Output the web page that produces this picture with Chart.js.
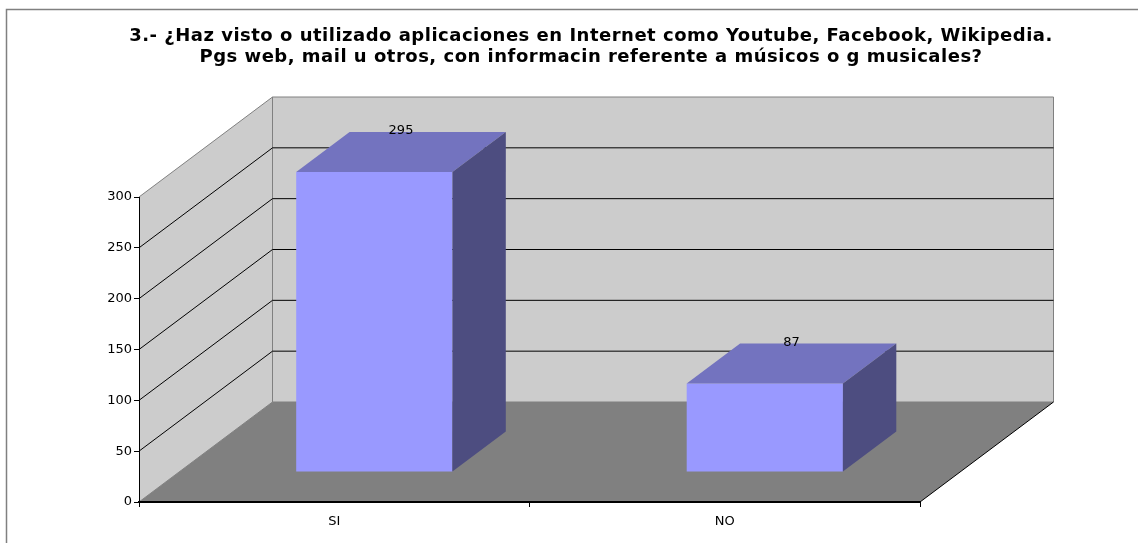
<!DOCTYPE html>
<html>
<head>
<meta charset="utf-8">
<script src="https://cdn.jsdelivr.net/npm/chart.js@4.4.1/dist/chart.umd.min.js"></script>
<style>
    html, body { margin: 0; padding: 0; background: #fff; overflow: hidden; }
    #wrap { width: 1138px; height: 543px; position: relative; }
</style>
</head>
<body>
<div id="wrap"><canvas id="encuestaChart" width="1138" height="543"></canvas></div>
<script>
const titulo = [
    '3.- ¿Haz visto o utilizado aplicaciones en Internet como Youtube, Facebook, Wikipedia.',
    'Pgs web, mail u otros, con informacin referente a músicos o g musicales?'
];
const categorias = ['SI', 'NO'];
const respuestas = [295, 87];
const marcasEje = [0, 50, 100, 150, 200, 250, 300];

const FUENTE = 'Verdana, "DejaVu Sans", sans-serif';
// desplazamiento de profundidad del piso (de la cara frontal al fondo)
const PROF_X = 133.5;
const PROF_Y = -100;
// las barras ocupan del 30% al 70% de la profundidad
const BARRA_INI = 0.3;
const BARRA_FIN = 0.7;

const colores = {
    pared: '#cccccc',
    piso: '#808080',
    borde: '#808080',
    frente: '#9999ff',
    tapa: '#7373bf',
    lado: '#4d4d80'
};

function poligono(ctx, puntos, relleno, trazo, ancho) {
    ctx.beginPath();
    ctx.moveTo(puntos[0][0], puntos[0][1]);
    for (let i = 1; i < puntos.length; i++) {
        ctx.lineTo(puntos[i][0], puntos[i][1]);
    }
    ctx.closePath();
    if (relleno) {
        ctx.fillStyle = relleno;
        ctx.fill();
    }
    if (trazo) {
        ctx.strokeStyle = trazo;
        ctx.lineWidth = ancho || 1;
        ctx.stroke();
    }
}

function linea(ctx, x1, y1, x2, y2, color, ancho) {
    ctx.beginPath();
    ctx.moveTo(x1, y1);
    ctx.lineTo(x2, y2);
    ctx.strokeStyle = color;
    ctx.lineWidth = ancho || 1;
    ctx.stroke();
}

const caja3d = {
    id: 'caja3d',
    beforeDraw(chart) {
        const ctx = chart.ctx;
        const area = chart.chartArea;
        const yEje = chart.scales.y;
        const izq = area.left, der = area.right, arriba = area.top, abajo = area.bottom;

        ctx.save();
        // marco exterior y titulo
        ctx.strokeStyle = '#808080';
        ctx.lineWidth = 1.5;
        ctx.strokeRect(6.5, 9.5, 1200, 600);

        ctx.fillStyle = '#000';
        ctx.font = 'bold 18px ' + FUENTE;
        ctx.letterSpacing = '0.5px';
        ctx.textAlign = 'center';
        ctx.textBaseline = 'middle';
        ctx.fillText(titulo[0], 591, 36);
        ctx.fillText(titulo[1], 591, 57);
        ctx.letterSpacing = '0px';

        // pared lateral, pared del fondo y piso
        poligono(ctx, [[izq, arriba], [izq + PROF_X, arriba + PROF_Y], [izq + PROF_X, abajo + PROF_Y], [izq, abajo]], colores.pared);
        poligono(ctx, [[izq + PROF_X, arriba + PROF_Y], [der + PROF_X, arriba + PROF_Y], [der + PROF_X, abajo + PROF_Y], [izq + PROF_X, abajo + PROF_Y]], colores.pared, colores.borde, 1);
        poligono(ctx, [[izq, abajo], [izq + PROF_X, abajo + PROF_Y], [der + PROF_X, abajo + PROF_Y], [der, abajo]], colores.piso);

        // lineas de division sobre las paredes
        marcasEje.forEach(v => {
            const y = yEje.getPixelForValue(v);
            if (v === 0 || v === yEje.max) {
                return;
            }
            linea(ctx, izq, y, izq + PROF_X, y + PROF_Y, '#000', 1);
            linea(ctx, izq + PROF_X, y + PROF_Y, der + PROF_X, y + PROF_Y, '#000', 1);
        });
        linea(ctx, izq, arriba, izq + PROF_X, arriba + PROF_Y, colores.borde, 1);
        linea(ctx, izq, abajo, izq + PROF_X, abajo + PROF_Y, colores.borde, 1);
        linea(ctx, der, abajo, der + PROF_X, abajo + PROF_Y, '#000', 1);
        ctx.restore();
    },
    beforeDatasetsDraw(chart) {
        chart.ctx.save();
        chart.ctx.translate(PROF_X * BARRA_INI, PROF_Y * BARRA_INI);
    },
    afterDatasetsDraw(chart) {
        const ctx = chart.ctx;
        ctx.restore();
        ctx.save();
        const fx = PROF_X * BARRA_INI, fy = PROF_Y * BARRA_INI;
        const bx = PROF_X * BARRA_FIN, by = PROF_Y * BARRA_FIN;
        const meta = chart.getDatasetMeta(0);
        meta.data.forEach((barra, i) => {
            const p = barra.getProps(['x', 'y', 'base', 'width'], true);
            const l = p.x - p.width / 2;
            const r = p.x + p.width / 2;
            // tapa superior
            poligono(ctx, [[l + fx, p.y + fy], [r + fx, p.y + fy], [r + bx, p.y + by], [l + bx, p.y + by]], colores.tapa);
            // cara lateral derecha
            poligono(ctx, [[r + fx, p.y + fy], [r + bx, p.y + by], [r + bx, p.base + by], [r + fx, p.base + fy]], colores.lado);
            // valor
            ctx.fillStyle = '#000';
            ctx.font = '13px ' + FUENTE;
            ctx.textAlign = 'center';
            ctx.textBaseline = 'middle';
            ctx.fillText(String(respuestas[i]), p.x + PROF_X * (BARRA_INI + BARRA_FIN) / 2, p.y + by - 1);
        });
        ctx.restore();
    }
};

const ctx = document.getElementById('encuestaChart').getContext('2d');
const encuestaChart = new Chart(ctx, {
    type: 'bar',
    data: {
        labels: categorias,
        datasets: [{
            label: 'Respuestas',
            data: respuestas,
            backgroundColor: colores.frente,
            borderWidth: 0,
            categoryPercentage: 1,
            barPercentage: 0.4
        }]
    },
    options: {
        responsive: false,
        animation: false,
        devicePixelRatio: 1,
        layout: {
            padding: { top: 197, left: 0, right: 218, bottom: 0 }
        },
        plugins: {
            legend: { display: false },
            title: { display: false },
            tooltip: { enabled: false }
        },
        scales: {
            x: {
                grid: {
                    display: true,
                    drawOnChartArea: false,
                    drawTicks: true,
                    tickLength: 5,
                    color: '#000'
                },
                border: { display: true, color: '#000', width: 2 },
                ticks: {
                    color: '#000',
                    font: { family: FUENTE, size: 13 },
                    padding: 7
                },
                afterFit(scale) {
                    scale.height = 41;
                }
            },
            y: {
                min: 0,
                max: 300,
                afterBuildTicks(scale) {
                    scale.ticks = marcasEje.map(v => ({ value: v }));
                },
                grid: {
                    display: true,
                    drawOnChartArea: false,
                    drawTicks: true,
                    tickLength: 5,
                    color: '#000'
                },
                border: { display: true, color: '#000', width: 1 },
                ticks: {
                    color: '#000',
                    font: { family: FUENTE, size: 13 },
                    padding: 2
                },
                afterFit(scale) {
                    scale.width = 139;
                }
            }
        }
    },
    plugins: [caja3d]
});
</script>
</body>
</html>
